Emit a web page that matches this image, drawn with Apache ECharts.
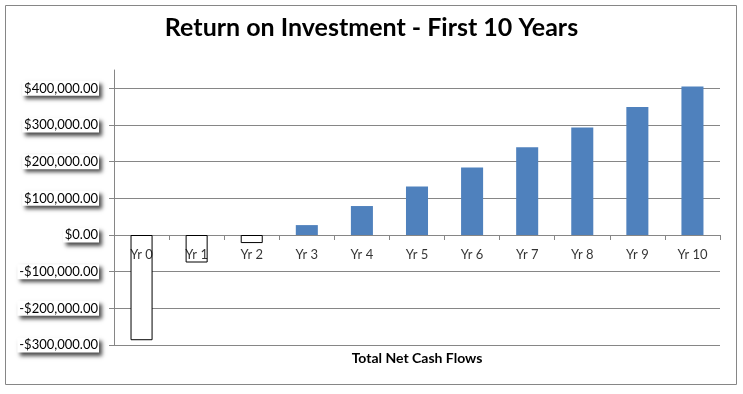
<!DOCTYPE html>
<html>
<head>
<meta charset="utf-8">
<script src="https://cdn.jsdelivr.net/npm/echarts@6/dist/echarts.min.js"></script>
<style>
html,body{margin:0;padding:0;background:#fff;}
#c{width:743px;height:394px;}
</style>
</head>
<body>
<div id="c"></div>
<script>
const categories = ['Yr 0','Yr 1','Yr 2','Yr 3','Yr 4','Yr 5','Yr 6','Yr 7','Yr 8','Yr 9','Yr 10'];
const netCashFlows = [-287000, -75000, -22000, 27000, 79000, 132000, 184000, 239000, 293000, 349000, 405000];
const titleText = 'Return on Investment - First 10 Years';
const xAxisTitle = 'Total Net Cash Flows';

const FONT = 'Lato';
const chart = echarts.init(document.getElementById('c'));
function money(v){
  const neg = v < 0;
  const s = Math.abs(v).toLocaleString('en-US',{minimumFractionDigits:2,maximumFractionDigits:2});
  return (neg ? '-$' : '$') + s;
}
chart.setOption({
  animation:false,
  backgroundColor:'#fff',
  title:{
    text:titleText, left:'center', top:10,
    textStyle:{fontFamily:FONT,fontSize:25,fontWeight:'bold',color:'#000'}
  },
  graphic:[{
    type:'rect', shape:{x:5.5,y:5.5,width:731,height:379},
    style:{fill:'none',stroke:'#868686',lineWidth:1}, silent:true, z:-1
  }],
  grid:{left:114,right:23,top:70,bottom:49,containLabel:false},
  xAxis:{
    type:'category', data:categories,
    name:xAxisTitle, nameLocation:'middle', nameGap:6,
    nameTextStyle:{fontFamily:FONT,fontSize:14,fontWeight:'bold',color:'#000',verticalAlign:'top'},
    axisLine:{onZero:true,lineStyle:{color:'#868686'}},
    axisTick:{show:true,inside:false,length:5,lineStyle:{color:'#868686'}},
    axisLabel:{show:false},
    splitLine:{show:false}
  },
  yAxis:{
    type:'value', min:-300000, max:450000, interval:100000,
    axisLine:{show:true,lineStyle:{color:'#868686'}},
    axisTick:{show:true,length:5,lineStyle:{color:'#868686'}},
    splitLine:{show:true,showMaxLine:false,lineStyle:{color:'#868686'}},
    axisLabel:{
      fontFamily:FONT,fontSize:13,color:'#000',margin:15,
      showMaxLabel:false,
      formatter:function(v){ return v>420000 ? '' : money(v); },
      backgroundColor:'#fff', padding:[1,1,1,2],
      shadowColor:'rgba(0,0,0,0.7)', shadowBlur:4, shadowOffsetX:3, shadowOffsetY:3
    }
  },
  series:[{
    type:'bar', barWidth:'40%',
    data:netCashFlows.map(v => ({
      value:v,
      itemStyle: v < 0 ? {color:'#fff',borderColor:'#000',borderWidth:1} : {color:'#4F81BD'}
    }))
  },{
    type:'scatter', symbolSize:0, silent:true, z:5,
    data:categories.map(c => [c, 0]),
    label:{show:true, position:'bottom', distance:13,
      formatter:p => p.data[0],
      fontFamily:FONT,fontSize:13,color:'#000'}
  }]
});
</script>
</body>
</html>
